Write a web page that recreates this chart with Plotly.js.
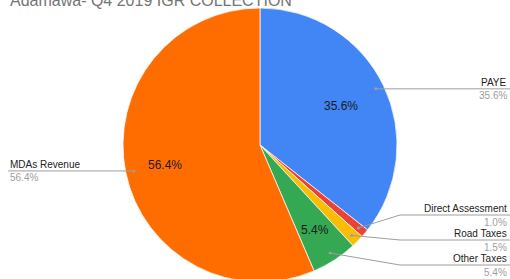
<!DOCTYPE html>
<html>
<head>
<meta charset="utf-8">
<script src="https://cdn.plot.ly/plotly-3.0.1.min.js"></script>
<style>
html,body{margin:0;padding:0;overflow:hidden;background:#fff;width:510px;height:279px;}
#chart{width:510px;height:300px;}
</style>
</head>
<body>
<div id="chart"></div>
<script>
// ---- data ----
const categories = ["PAYE", "Direct Assessment", "Road Taxes", "Other Taxes", "MDAs Revenue"];
const values = [35.6, 1.0, 1.5, 5.4, 56.4];
const percentLabels = ["35.6%", "1.0%", "1.5%", "5.4%", "56.4%"];
const showInside = [true, false, false, true, true];
const colors = ["#4285F4", "#EA4335", "#FBBC04", "#34A853", "#FF6D01"];
const titleText = "Adamawa- Q4 2019 IGR COLLECTION";

// ---- layout constants (pixels) ----
const W = 510, H = 300;
const cx = 260, cy = 145, R = 137;
const px = x => x / W;
const py = y => 1 - y / H;
const FONT = "Liberation Sans, Arial, sans-serif";

// label placement per slice: side, line y (null = anchor y), elbow x, inside-label radius factor
const labelCfg = [
  {side: "right", lineY: null, elbowX: null, inR: 0.66},
  {side: "right", lineY: 215, elbowX: 400, inR: 0.7},
  {side: "right", lineY: 240, elbowX: 400, inR: 0.7},
  {side: "right", lineY: 265, elbowX: 400, inR: 0.74},
  {side: "left",  lineY: null, elbowX: null, inR: 0.71}
];

const total = values.reduce((a, b) => a + b, 0);
let cum = 0;
const mids = values.map(v => {
  const mid = (cum + v / 2) / total * 2 * Math.PI;
  cum += v;
  return mid;
});
const pointAt = (ang, r) => ({x: cx + r * Math.sin(ang), y: cy - r * Math.cos(ang)});

const shapes = [];
const annotations = [];
const lineColor = "#9e9e9e";

categories.forEach((name, i) => {
  const a = pointAt(mids[i], 0.94 * R);
  const c = labelCfg[i];
  const ly = c.lineY === null ? a.y : c.lineY;
  let path, tx, xanchor;
  if (c.side === "right") {
    const endX = 512; tx = 509; xanchor = "right";
    if (c.elbowX === null) path = `M ${px(a.x)} ${py(a.y)} L ${px(endX)} ${py(ly)}`;
    else path = `M ${px(a.x)} ${py(a.y)} L ${px(c.elbowX)} ${py(ly)} L ${px(endX)} ${py(ly)}`;
  } else {
    const endX = 8; tx = 8; xanchor = "left";
    path = `M ${px(a.x)} ${py(a.y)} L ${px(endX)} ${py(ly)}`;
  }
  shapes.push({type: "path", xref: "paper", yref: "paper", path: path,
    line: {color: lineColor, width: 1}});
  shapes.push({type: "circle", xref: "paper", yref: "paper",
    x0: px(a.x - 1.5), x1: px(a.x + 1.5), y0: py(a.y + 1.5), y1: py(a.y - 1.5),
    fillcolor: lineColor, line: {width: 0}});
  annotations.push({xref: "paper", yref: "paper", x: px(tx), y: py(ly - 6.5),
    xanchor: xanchor, yanchor: "middle", showarrow: false, text: name,
    font: {family: FONT, size: 10, color: "#222222"}});
  annotations.push({xref: "paper", yref: "paper", x: px(tx), y: py(ly + 7),
    xanchor: xanchor, yanchor: "middle", showarrow: false, text: percentLabels[i],
    font: {family: FONT, size: 10, color: "#9e9e9e"}});
  if (showInside[i]) {
    const p = pointAt(mids[i], c.inR * R);
    annotations.push({xref: "paper", yref: "paper", x: px(p.x), y: py(p.y),
      xanchor: "center", yanchor: "middle", showarrow: false, text: percentLabels[i],
      font: {family: FONT, size: 12, color: "#1a1a1a"}});
  }
});

annotations.push({xref: "paper", yref: "paper", x: px(8), y: py(0), xanchor: "left",
  yanchor: "middle", showarrow: false, text: titleText,
  font: {family: FONT, size: 16, color: "#757575"}});

const trace = {
  type: "pie",
  labels: categories,
  values: values,
  sort: false,
  direction: "clockwise",
  rotation: 0,
  marker: {colors: colors, line: {color: "#ffffff", width: 0.7}},
  textinfo: "none",
  hoverinfo: "label+percent",
  domain: {x: [px(cx - R), px(cx + R)], y: [py(cy + R), py(cy - R)]},
  automargin: false
};

const layout = {
  width: W, height: H,
  margin: {l: 0, r: 0, t: 0, b: 0},
  paper_bgcolor: "#ffffff",
  showlegend: false,
  shapes: shapes,
  annotations: annotations
};

Plotly.newPlot("chart", [trace], layout, {displayModeBar: false, staticPlot: true});
</script>
</body>
</html>
